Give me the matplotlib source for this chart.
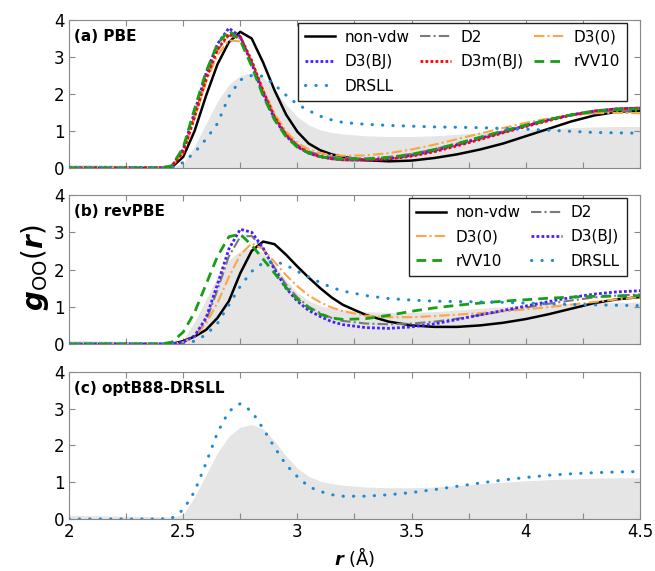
import numpy as np
import matplotlib.pyplot as plt
from matplotlib.ticker import MultipleLocator

plt.rcParams['font.family'] = ['DejaVu Sans']
plt.rcParams['mathtext.fontset'] = 'dejavusans'

# r grid (Angstrom)
r = [2.0, 2.4, 2.45, 2.5, 2.55, 2.6, 2.65, 2.7, 2.75, 2.8, 2.85, 2.9, 2.95, 3.0,
     3.05, 3.1, 3.15, 3.2, 3.3, 3.4, 3.5, 3.6, 3.7, 3.8, 3.9, 4.0, 4.1, 4.2, 4.3,
     4.4, 4.5]

# experiment (grey area)
g_exp = [0.1, 0.06, 0.05, 0.12, 0.6, 1.2, 1.8, 2.25, 2.5, 2.57, 2.45, 2.12, 1.72,
         1.38, 1.16, 1.03, 0.96, 0.92, 0.87, 0.85, 0.85, 0.87, 0.91, 0.96, 1.0,
         1.04, 1.07, 1.09, 1.11, 1.12, 1.12]

# (a) PBE
a_nonvdw = [0, 0, 0.02, 0.3, 1.0, 1.95, 2.8, 3.4, 3.68, 3.5, 2.85, 2.1, 1.45, 0.98,
            0.66, 0.48, 0.37, 0.3, 0.21, 0.18, 0.2, 0.27, 0.37, 0.5, 0.66, 0.86,
            1.06, 1.26, 1.42, 1.52, 1.55]
a_d2 = [0, 0, 0.04, 0.45, 1.42, 2.42, 3.18, 3.58, 3.5, 2.88, 2.08, 1.4, 0.93, 0.63,
        0.45, 0.35, 0.3, 0.27, 0.26, 0.3, 0.38, 0.51, 0.66, 0.83, 0.99, 1.15, 1.3,
        1.42, 1.5, 1.54, 1.55]
a_d3zero = [0, 0, 0.04, 0.4, 1.35, 2.32, 3.05, 3.45, 3.42, 2.88, 2.12, 1.47, 0.99,
            0.68, 0.5, 0.4, 0.35, 0.33, 0.34, 0.4, 0.5, 0.63, 0.78, 0.93, 1.08,
            1.22, 1.34, 1.43, 1.48, 1.49, 1.48]
a_d3bj = [0, 0, 0.05, 0.5, 1.52, 2.55, 3.35, 3.78, 3.55, 2.82, 2.0, 1.33, 0.87, 0.57,
          0.4, 0.3, 0.25, 0.22, 0.21, 0.25, 0.34, 0.47, 0.63, 0.8, 0.97, 1.14, 1.3,
          1.44, 1.54, 1.6, 1.62]
a_d3mbj = [0, 0, 0.04, 0.42, 1.38, 2.4, 3.2, 3.62, 3.55, 2.9, 2.08, 1.38, 0.9, 0.59,
           0.41, 0.31, 0.25, 0.22, 0.21, 0.24, 0.32, 0.44, 0.6, 0.77, 0.95, 1.12,
           1.28, 1.43, 1.54, 1.6, 1.62]
a_rvv10 = [0, 0, 0.06, 0.55, 1.6, 2.6, 3.35, 3.72, 3.45, 2.75, 1.95, 1.3, 0.85, 0.56,
           0.4, 0.31, 0.26, 0.24, 0.24, 0.28, 0.37, 0.5, 0.66, 0.83, 1.0, 1.16, 1.31,
           1.44, 1.53, 1.58, 1.6]
a_drsll = [0, 0, 0.0, 0.15, 0.42, 0.78, 1.2, 1.93, 2.38, 2.5, 2.48, 2.25, 1.97, 1.72,
           1.55, 1.4, 1.3, 1.23, 1.18, 1.15, 1.13, 1.11, 1.1, 1.09, 1.07, 1.05, 1.02,
           0.99, 0.96, 0.95, 0.94]

# (b) revPBE
b_nonvdw = [0, 0, 0.0, 0.08, 0.2, 0.38, 0.7, 1.15, 1.9, 2.5, 2.75, 2.68, 2.4, 2.08,
            1.78, 1.5, 1.25, 1.05, 0.78, 0.6, 0.5, 0.46, 0.46, 0.5, 0.57, 0.67, 0.8,
            0.95, 1.1, 1.2, 1.26]
b_d2 = [0, 0, 0.01, 0.05, 0.2, 0.62, 1.45, 2.35, 2.88, 2.9, 2.55, 2.05, 1.6, 1.25,
        1.0, 0.83, 0.7, 0.62, 0.55, 0.53, 0.55, 0.6, 0.68, 0.78, 0.88, 0.98, 1.08,
        1.17, 1.25, 1.3, 1.33]
b_d3zero = [0, 0, 0.0, 0.05, 0.2, 0.55, 1.1, 1.8, 2.4, 2.7, 2.55, 2.2, 1.85, 1.55,
            1.3, 1.12, 0.98, 0.88, 0.76, 0.72, 0.72, 0.75, 0.79, 0.83, 0.88, 0.93,
            0.99, 1.06, 1.13, 1.2, 1.26]
b_d3bj = [0, 0, 0.01, 0.05, 0.22, 0.7, 1.6, 2.55, 3.08, 3.0, 2.58, 2.0, 1.5, 1.15,
          0.9, 0.74, 0.6, 0.52, 0.44, 0.42, 0.46, 0.54, 0.66, 0.78, 0.9, 1.02, 1.14,
          1.25, 1.34, 1.4, 1.43]
b_rvv10 = [0, 0, 0.05, 0.32, 0.85, 1.6, 2.35, 2.88, 2.95, 2.65, 2.28, 1.9, 1.52, 1.2,
           0.97, 0.8, 0.7, 0.66, 0.68, 0.77, 0.88, 0.97, 1.04, 1.1, 1.15, 1.19, 1.23,
           1.26, 1.28, 1.29, 1.3]
b_drsll = [0, 0, 0, 0.0, 0.08, 0.25, 0.55, 1.05, 1.55, 1.95, 2.18, 2.22, 2.12, 1.95,
           1.8, 1.65, 1.52, 1.42, 1.3, 1.22, 1.18, 1.15, 1.14, 1.13, 1.12, 1.1, 1.08,
           1.06, 1.05, 1.04, 1.03]

# (c) optB88-DRSLL
c_drsll = [0, 0, 0.02, 0.25, 0.75, 1.52, 2.35, 2.93, 3.14, 2.93, 2.46, 1.95, 1.48,
           1.15, 0.88, 0.75, 0.66, 0.62, 0.62, 0.66, 0.72, 0.8, 0.89, 0.98, 1.06,
           1.13, 1.19, 1.23, 1.26, 1.28, 1.29]

styles = {
    'non-vdw': dict(color='black', lw=1.8, ls='-'),
    'D2': dict(color='#7a7a7a', lw=1.5, ls=(0, (5, 1.5, 1, 1.5))),
    'D3(0)': dict(color='#ffa345', lw=1.5, ls=(0, (5, 1.5, 1, 1.5))),
    'D3(BJ)': dict(color='#4a1dff', lw=2.0, ls=(0, (1, 0.8))),
    'D3m(BJ)': dict(color='#ff0000', lw=2.0, ls=(0, (1, 0.8))),
    'rVV10': dict(color='#16a016', lw=2.0, ls=(0, (3.5, 2.2))),
    'DRSLL': dict(color='#1a8ad4', lw=2.2, ls=(0, (0.1, 3.3)),
                  dash_capstyle='round'),
}

panels = [
    ('(a) PBE', [('non-vdw', a_nonvdw), ('D2', a_d2), ('D3(0)', a_d3zero),
                 ('D3(BJ)', a_d3bj), ('D3m(BJ)', a_d3mbj), ('rVV10', a_rvv10),
                 ('DRSLL', a_drsll)]),
    ('(b) revPBE', [('non-vdw', b_nonvdw), ('D2', b_d2), ('D3(0)', b_d3zero),
                    ('D3(BJ)', b_d3bj), ('rVV10', b_rvv10), ('DRSLL', b_drsll)]),
    ('(c) optB88-DRSLL', [('DRSLL', c_drsll)]),
]

fig = plt.figure(figsize=(6.55, 5.71), dpi=100)
boxes = [[0.1053, 0.7058, 0.8718, 0.2592],
         [0.1053, 0.3975, 0.8718, 0.2610],
         [0.1053, 0.0911, 0.8718, 0.2574]]

for i, (title, curves) in enumerate(panels):
    ax = fig.add_axes(boxes[i])
    ax.fill_between(r, 0, g_exp, color='#e5e5e5', lw=0, zorder=1)
    lines = {}
    for name, g in curves:
        lines[name], = ax.plot(r, g, label=name, zorder=3, **styles[name])
    ax.set_xlim(2, 4.5)
    ax.set_ylim(0, 4)
    ax.xaxis.set_major_locator(MultipleLocator(0.25))
    ax.yaxis.set_major_locator(MultipleLocator(1))
    ax.tick_params(direction='in', top=True, right=True, length=4,
                   color='#888888', labelsize=12, pad=3)
    for sp in ax.spines.values():
        sp.set_color('#888888')
    ax.set_yticks([0, 1, 2, 3, 4])
    ax.set_yticklabels(['0', '1', '2', '3', '4'])
    if i == 2:
        ax.set_xticks([2, 2.25, 2.5, 2.75, 3, 3.25, 3.5, 3.75, 4, 4.25, 4.5])
        ax.set_xticklabels(['2', '', '2.5', '', '3', '', '3.5', '', '4', '', '4.5'])
        ax.set_xlabel(r'$\mathbfit{r}$ (Å)', fontsize=13, labelpad=3)
    else:
        ax.set_xticklabels([])
    ax.text(0.008, 0.94, title, transform=ax.transAxes, fontsize=11,
            fontweight='bold', va='top', ha='left')

    if i == 0:
        order = ['non-vdw', 'D3(BJ)', 'DRSLL', 'D2', 'D3m(BJ)', 'D3(0)', 'rVV10']
        leg = ax.legend([lines[k] for k in order], order, ncol=3,
                        loc='upper right', bbox_to_anchor=(0.977, 0.98),
                        borderaxespad=0, fontsize=11, handlelength=2.0,
                        columnspacing=0.7, handletextpad=0.6,
                        labelspacing=0.62, borderpad=0.45)
    elif i == 1:
        order = ['non-vdw', 'D3(0)', 'rVV10', 'D2', 'D3(BJ)', 'DRSLL']
        leg = ax.legend([lines[k] for k in order], order, ncol=2,
                        loc='upper right', bbox_to_anchor=(0.977, 0.98),
                        borderaxespad=0, fontsize=11, handlelength=2.0,
                        columnspacing=0.7, handletextpad=0.6,
                        labelspacing=0.62, borderpad=0.45)
    if i < 2:
        leg.get_frame().set_edgecolor('#222222')
        leg.get_frame().set_linewidth(1.0)
        leg.get_frame().set_boxstyle('square', pad=0)
        leg.get_frame().set_alpha(1)
        leg.set_zorder(5)

fig.text(35 / 655, 1 - 268 / 571, r'$\mathbfit{g}_{\mathrm{OO}}(\mathbfit{r})$',
         rotation=90, fontsize=20, va='center', ha='center')

fig.savefig('out.png', dpi=100)
